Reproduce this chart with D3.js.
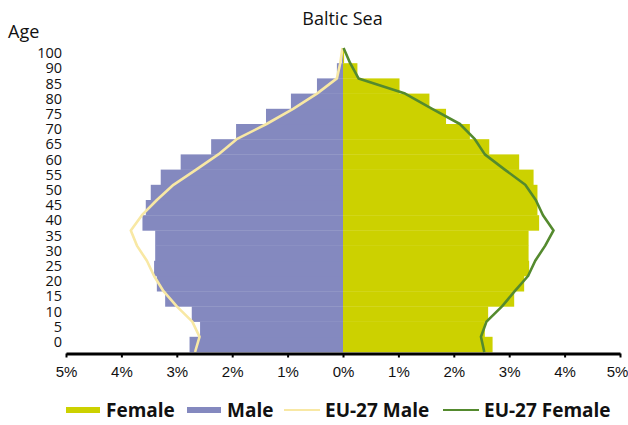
<!doctype html>
<html>

<head>
  <meta charset="UTF-8" />
  <title>Baltic Sea</title>
  <style>
    html,
    body {
      margin: 0;
      background: #fff;
    }

    svg {
      font-family: "Open Sans", Arial, sans-serif;
      display: block;
    }

    .axis .domain {
      stroke: #000;
      stroke-width: 3px;
    }

    .axis .tick line {
      stroke: #000;
      stroke-width: 2px;
    }

    .axis text {
      font-size: 15px;
      fill: #111;
    }

    .legend text {
      font-size: 19px;
      font-weight: bold;
      fill: #111;
    }
  </style>
</head>

<body>
  <script src="https://cdn.jsdelivr.net/npm/d3@7"></script>
  <script>
    // data (% of total population, by 5 year age group)
    const ageLabels = ['0', '5', '10', '15', '20', '25', '30', '35', '40', '45',
      '50', '55', '60', '65', '70', '75', '80', '85', '90', '100'];
    const femaleShare = [2.70, 2.56, 2.62, 3.09, 3.27, 3.36, 3.35, 3.35, 3.54, 3.51,
      3.51, 3.44, 3.18, 2.64, 2.29, 1.86, 1.56, 1.02, 0.26, 0.02];
    const maleShare = [2.77, 2.58, 2.73, 3.21, 3.36, 3.41, 3.39, 3.39, 3.62, 3.56,
      3.47, 3.29, 2.93, 2.38, 1.93, 1.39, 0.94, 0.47, 0.11, 0.02];

    // EU-27 reference lines
    const euAges = [0, 5, 10, 15, 20, 25, 30, 35, 40, 45, 50,
      55, 60, 65, 70, 75, 80, 85, 90, 95, 100];
    const euMale = [2.67, 2.59, 2.72, 3.00, 3.24, 3.41, 3.54, 3.72, 3.83, 3.63, 3.36,
      3.06, 2.65, 2.25, 1.92, 1.38, 0.90, 0.47, 0.11, 0.05, 0.01];
    const euFemale = [2.55, 2.49, 2.59, 2.87, 3.10, 3.34, 3.47, 3.65, 3.80, 3.61, 3.48,
      3.29, 2.92, 2.56, 2.38, 2.11, 1.61, 1.12, 0.28, 0.13, 0.01];

    const xTicks = [-5, -4, -3, -2, -1, 0, 1, 2, 3, 4, 5];

    const colors = {
      female: '#ccd100',
      male: '#8489bf',
      euMale: '#f8e8a4',
      euFemale: '#548a2e'
    };

    // view
    const width = 628,
      height = 425;
    const plot = { left: 66, right: 620, top: 48, bottom: 352 };

    const svg = d3.select('body').append('svg')
      .attr('width', width)
      .attr('height', height);

    const x = d3.scaleLinear()
      .domain([-5, 5])
      .range([plot.left, plot.right]);

    const y = d3.scaleBand()
      .domain(ageLabels)
      .range([plot.bottom, plot.top])
      .padding(0);

    const yAge = d3.scaleLinear()
      .domain([0, 100])
      .range([plot.bottom, plot.top]);

    // bars
    svg.append('g')
      .selectAll('rect')
      .data(ageLabels.map((a, i) => ({ age: a, v: maleShare[i] })))
      .join('rect')
      .attr('x', d => x(-d.v))
      .attr('y', d => y(d.age))
      .attr('width', d => x(0) - x(-d.v))
      .attr('height', y.bandwidth() + 0.3)
      .attr('fill', colors.male);

    svg.append('g')
      .selectAll('rect')
      .data(ageLabels.map((a, i) => ({ age: a, v: femaleShare[i] })))
      .join('rect')
      .attr('x', x(0))
      .attr('y', d => y(d.age))
      .attr('width', d => x(d.v) - x(0))
      .attr('height', y.bandwidth() + 0.3)
      .attr('fill', colors.female);

    // EU-27 lines
    const line = d3.line()
      .x(d => x(d.v))
      .y(d => yAge(d.age));

    svg.append('path')
      .datum(euAges.map((a, i) => ({ age: a, v: -euMale[i] })))
      .attr('d', line)
      .attr('fill', 'none')
      .attr('stroke', colors.euMale)
      .attr('stroke-width', 2.6)
      .attr('stroke-linejoin', 'round');

    svg.append('path')
      .datum(euAges.map((a, i) => ({ age: a, v: euFemale[i] })))
      .attr('d', line)
      .attr('fill', 'none')
      .attr('stroke', colors.euFemale)
      .attr('stroke-width', 2.6)
      .attr('stroke-linejoin', 'round');

    // x axis
    svg.append('g')
      .attr('class', 'axis')
      .attr('transform', `translate(0,${plot.bottom + 1.5})`)
      .call(d3.axisBottom(x)
        .tickValues(xTicks)
        .tickSize(4)
        .tickSizeOuter(0)
        .tickPadding(6)
        .tickFormat(d => Math.abs(d) + '%'))
      .call(g => g.selectAll('text').attr('dy', '0.9em'))
      // last label sits right at the edge of the window
      .call(g => g.selectAll('.tick').filter(d => d === 5).select('text').attr('dx', -3));

    // y labels
    svg.append('g')
      .selectAll('text')
      .data(ageLabels)
      .join('text')
      .attr('x', 62)
      .attr('y', d => y(d) + y.bandwidth() / 2 + 2.6)
      .attr('text-anchor', 'end')
      .attr('font-size', 14.5)
      .attr('fill', '#111')
      .text(d => d);

    svg.append('text')
      .attr('x', 8)
      .attr('y', 38)
      .attr('font-size', 18)
      .attr('fill', '#111')
      .text('Age');

    svg.append('text')
      .attr('x', 342.5)
      .attr('y', 25)
      .attr('text-anchor', 'middle')
      .attr('font-size', 18)
      .attr('fill', '#111')
      .text('Baltic Sea');

    // legend
    const legendItems = [
      { label: 'Female', color: colors.female, kind: 'box', x: 66 },
      { label: 'Male', color: colors.male, kind: 'box', x: 187 },
      { label: 'EU-27 Male', color: colors.euMale, kind: 'line', x: 284 },
      { label: 'EU-27 Female', color: colors.euFemale, kind: 'line', x: 443 }
    ];

    const legend = svg.append('g')
      .attr('class', 'legend')
      .selectAll('g')
      .data(legendItems)
      .join('g')
      .attr('transform', d => `translate(${d.x},410)`);

    legend.filter(d => d.kind === 'box').append('rect')
      .attr('x', 0)
      .attr('y', -3)
      .attr('width', 34)
      .attr('height', 6)
      .attr('fill', d => d.color);

    legend.filter(d => d.kind === 'line').append('line')
      .attr('x1', 0)
      .attr('x2', 36)
      .attr('stroke', d => d.color)
      .attr('stroke-width', 2.2);

    legend.append('text')
      .attr('x', d => d.kind === 'box' ? 40 : 41)
      .attr('y', 6.5)
      .text(d => d.label);
  </script>
</body>

</html>
